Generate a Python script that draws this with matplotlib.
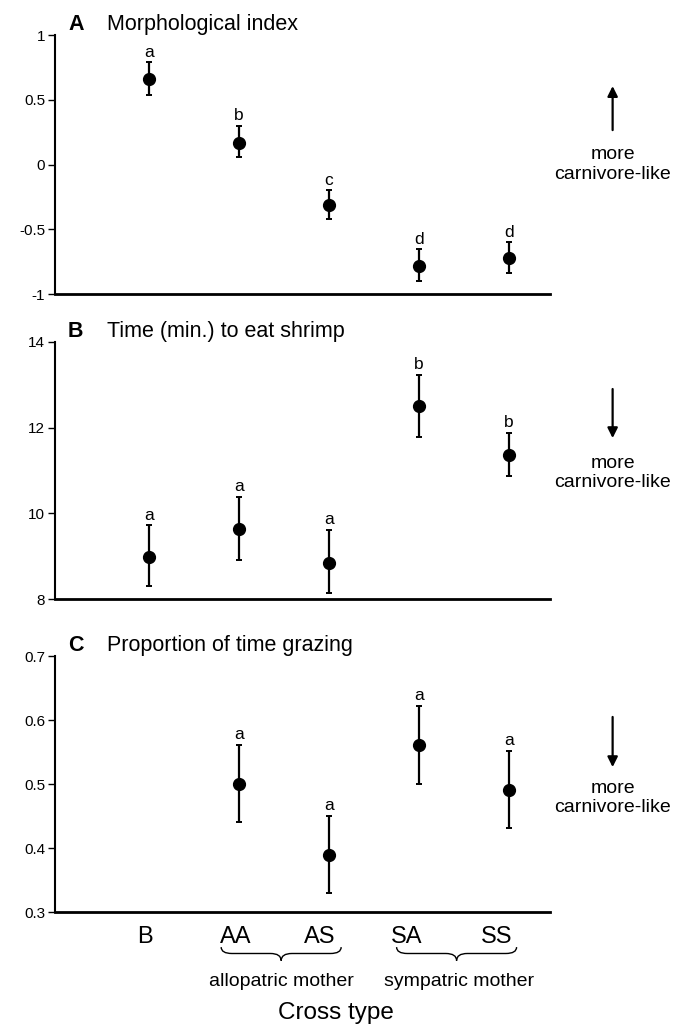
import matplotlib
matplotlib.use("Agg")
import matplotlib.pyplot as plt
from matplotlib.path import Path
from matplotlib.patches import PathPatch
import matplotlib.transforms as mtransforms

plt.rcParams["font.family"] = ["Liberation Sans", "DejaVu Sans"]

crosses = ["B", "AA", "AS", "SA", "SS"]
xpos = [1, 2, 3, 4, 5]

# A: morphological index (mean, lower, upper)
morph_mean = [0.66, 0.17, -0.31, -0.78, -0.72]
morph_lo = [0.54, 0.06, -0.42, -0.90, -0.84]
morph_hi = [0.79, 0.30, -0.20, -0.655, -0.60]
morph_grp = ["a", "b", "c", "d", "d"]

# B: time to eat shrimp
shrimp_mean = [8.98, 9.64, 8.84, 12.50, 11.36]
shrimp_lo = [8.30, 8.92, 8.13, 11.79, 10.87]
shrimp_hi = [9.72, 10.39, 9.61, 13.23, 11.88]
shrimp_grp = ["a", "a", "a", "b", "b"]

# C: proportion of time grazing (no B)
graze_x = [2, 3, 4, 5]
graze_mean = [0.50, 0.389, 0.561, 0.491]
graze_lo = [0.441, 0.329, 0.50, 0.431]
graze_hi = [0.561, 0.45, 0.622, 0.552]
graze_grp = ["a", "a", "a", "a"]

panels = [
    ("A", "Morphological index", xpos, morph_mean, morph_lo, morph_hi, morph_grp,
     (-1, 1), [1, 0.5, 0, -0.5, -1], ["1", "0.5", "0", "-0.5", "-1"]),
    ("B", "Time (min.) to eat shrimp", xpos, shrimp_mean, shrimp_lo, shrimp_hi, shrimp_grp,
     (8, 14), [14, 12, 10, 8], ["14", "12", "10", "8"]),
    ("C", "Proportion of time grazing", graze_x, graze_mean, graze_lo, graze_hi, graze_grp,
     (0.3, 0.7), [0.7, 0.6, 0.5, 0.4, 0.3], ["0.7", "0.6", "0.5", "0.4", "0.3"]),
]

fig = plt.figure(figsize=(6.75, 10.31), dpi=100)
rects = [
    [0.0815, 0.7148, 0.733, 0.2512],
    [0.0815, 0.4190, 0.733, 0.2493],
    [0.0815, 0.1154, 0.733, 0.2483],
]
# arrow start, arrow end, text centre (axes fraction)
arrows = [(0.633, 0.803, 0.50), (0.817, 0.626, 0.49), (0.762, 0.566, 0.445)]

axes = []
for rect, p, arr in zip(rects, panels, arrows):
    letter, title, x, m, lo, hi, grp, ylim, yt, ytl = p
    ax = fig.add_axes(rect)
    axes.append(ax)
    yerr = [[mi - l for mi, l in zip(m, lo)], [h - mi for mi, h in zip(m, hi)]]
    ax.errorbar(x, m, yerr=yerr, fmt="o", color="black", ms=8.5, elinewidth=1.6,
                capsize=2.5, capthick=1.4, clip_on=False, zorder=3)
    for xi, h, g in zip(x, hi, grp):
        ax.annotate(g, (xi, h), xytext=(0, 4), textcoords="offset points",
                    ha="center", va="baseline", fontsize=12.5)
    ax.set_xlim(-0.044, 5.456)
    ax.set_ylim(*ylim)
    ax.set_yticks(yt)
    ax.set_yticklabels(ytl, fontsize=11)
    ax.tick_params(axis="y", length=5, width=1, pad=2)
    for s in ["top", "right"]:
        ax.spines[s].set_visible(False)
    ax.spines["left"].set_linewidth(1.5)
    ax.spines["bottom"].set_linewidth(2)
    ax.text(0.042, 1.018, letter, transform=ax.transAxes, fontsize=15.5,
            fontweight="bold", ha="center", va="baseline")
    ax.text(0.105, 1.018, title, transform=ax.transAxes, fontsize=15.5,
            ha="left", va="baseline")
    a0, a1, tc = arr
    ax.annotate("", xy=(1.127, a1), xytext=(1.127, a0), xycoords="axes fraction",
                textcoords="axes fraction",
                arrowprops=dict(arrowstyle="-|>", lw=1.6, color="black",
                                mutation_scale=15, shrinkA=0, shrinkB=0))
    ax.text(1.127, tc, "more\ncarnivore-like", transform=ax.transAxes,
            ha="center", va="center", fontsize=14, linespacing=1.2)

for ax in axes[:2]:
    ax.set_xticks([])

axc = axes[2]
axc.set_xticks(xpos)
axc.set_xticklabels(crosses, fontsize=17)
axc.tick_params(axis="x", length=0, pad=10)
# the cross labels sit a little left of the points in the original
label_shift_px = [-4, -3, -9, -12, -12]
for lbl, dx in zip(axc.get_xticklabels(), label_shift_px):
    lbl.set_transform(lbl.get_transform() +
                      mtransforms.ScaledTranslation(dx / 100, 0, fig.dpi_scale_trans))

# braces under the cross labels
trans = mtransforms.blended_transform_factory(axc.transData, axc.transAxes)
y_top, y_mid, y_tip = -0.137, -0.162, -0.19
brace_centres = [2.47, 4.42]
for xc in brace_centres:
    hw = 0.667
    x0, x1 = xc - hw, xc + hw
    d = 0.12
    verts = [(x0, y_top), (x0, y_mid), (x0 + d, y_mid),
             (xc - d, y_mid), (xc, y_mid), (xc, y_tip),
             (xc, y_mid), (xc + d, y_mid),
             (x1 - d, y_mid), (x1, y_mid), (x1, y_top)]
    codes = [Path.MOVETO, Path.CURVE3, Path.CURVE3,
             Path.LINETO, Path.CURVE3, Path.CURVE3,
             Path.CURVE3, Path.CURVE3,
             Path.LINETO, Path.CURVE3, Path.CURVE3]
    axc.add_patch(PathPatch(Path(verts, codes), transform=trans, fill=False,
                            lw=1.0, color="black", clip_on=False))

axc.text(2.47, -0.27, "allopatric mother", transform=trans, ha="center",
         va="center", fontsize=14)
axc.text(4.45, -0.27, "sympatric mother", transform=trans, ha="center",
         va="center", fontsize=14)
axc.text(3.08, -0.395, "Cross type", transform=trans, ha="center",
         va="center", fontsize=17.5)

fig.savefig("out.png", dpi=100)
